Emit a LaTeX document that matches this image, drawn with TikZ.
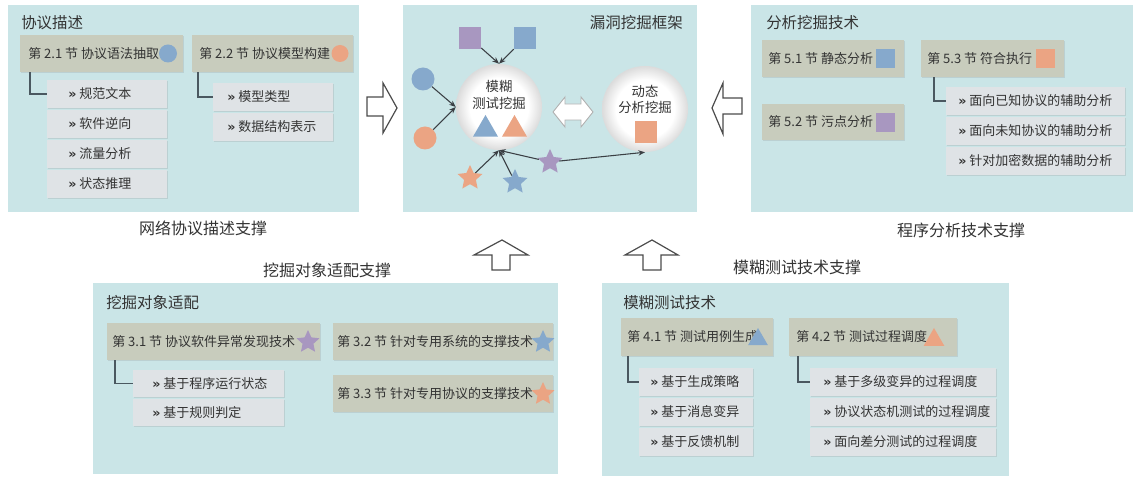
\documentclass[tikz,border=0pt]{standalone}
\usepackage{fontspec}
\setmainfont{Noto Sans CJK SC}
\newfontfamily\dvsb{DejaVu Sans Bold}
\usetikzlibrary{fit,shadows,shapes.geometric,arrows.meta,calc}
\definecolor{panelc}{HTML}{CAE5E7}
\definecolor{hdrc}{HTML}{C8CCBD}
\definecolor{itemc}{HTML}{DFE3E6}
\definecolor{shB}{HTML}{86A9CC}
\definecolor{shO}{HTML}{EBA483}
\definecolor{shP}{HTML}{A897C0}
\definecolor{txtc}{HTML}{333333}
\definecolor{treec}{HTML}{4A5860}
\definecolor{arrc}{HTML}{3A3F44}
\pgfdeclareradialshading{ballshade}{\pgfpoint{0bp}{0bp}}{color(0bp)=(white); color(17bp)=(white); color(25bp)=(black!14); color(50bp)=(black!14)}
\newcommand\mkbox[6]{\node[#1, fit={(#3,#4)(#5,#6)}] (#2) {};}
\newcommand\mkhdr[7]{\node[hdr, fit={(#2,#3)(#4,#5)}] (#1) {};
  \node[txt] (#1t) at (#6,{(#3+#5)/2}) {#7};}
\newcommand\chev{{\dvsb\fontsize{9.5}{12}\selectfont »}}
\newcommand\mkrow[7]{\node[item, fit={(#2,#3)(#4,#5)}] (#1) {};
  \node[txt] (#1t) at (#6,{(#3+#5)/2}) {\chev\ #7};}
\begin{document}
\begin{tikzpicture}[x=0.75pt,y=-0.75pt,
  panel/.style={fill=panelc, inner sep=0pt, draw=none},
  hdr/.style={fill=hdrc, inner sep=0pt, drop shadow={shadow xshift=0.5pt, shadow yshift=-0.8pt, opacity=0.2}},
  item/.style={fill=itemc, inner sep=0pt, drop shadow={shadow xshift=0.5pt, shadow yshift=-0.8pt, opacity=0.2}},
  ttl/.style={font=\fontsize{11.6}{14}\selectfont, text=txtc, inner sep=0pt},
  lbl/.style={font=\fontsize{12}{14}\selectfont, text=txtc, inner sep=0pt},
  txt/.style={font=\fontsize{9.75}{12}\selectfont, text=txtc, inner sep=0pt, anchor=west},
  ctxt/.style={font=\fontsize{10}{12.5}\selectfont, text=txtc, inner sep=0pt, align=center},
  treeline/.style={draw=treec, line width=1.3pt},
  arr/.style={draw=arrc, line width=0.8pt, -{Stealth[length=5pt,width=4pt]}},
  blk/.style={draw=black!70, fill=white, line width=0.9pt, line join=miter},
  sq/.style={rectangle, draw=none, inner sep=0pt, minimum size=#1*0.75pt},
  dot/.style={circle, draw=none, inner sep=0pt, minimum size=#1*0.75pt},
  tri/.style={regular polygon, regular polygon sides=3, draw=none, inner sep=0pt, minimum size=#1*0.75pt},
  st/.style={star, star points=5, star point ratio=2.1, draw=none, inner sep=0pt, minimum size=#1*0.75pt},
]
\useasboundingbox (0,0) rectangle (1133,477);
\fill[white] (0,0) rectangle (1133,477);

% ---------- panels ----------
\mkbox{panel}{p1}{8}{5}{359}{212}
\mkbox{panel}{p2}{403}{5}{697}{212}
\mkbox{panel}{p3}{751}{5}{1133}{212}
\mkbox{panel}{p4}{93}{283}{558}{474}
\mkbox{panel}{p5}{602}{283}{1009}{476}

% ---------- panel 1 ----------
\node[ttl, anchor=west] (p1t) at (21,23) {协议描述};
\mkhdr{h21}{20}{35}{183}{72}{28}{第 2.1 节 协议语法抽取}
\node[dot=18, fill=shB] (i21) at (168,53.5) {};
\mkhdr{h22}{192}{35}{353}{72}{199}{第 2.2 节 协议模型构建}
\node[dot=17, fill=shO] (i22) at (340,53.5) {};
\mkrow{r21a}{47}{80}{167}{108}{68}{规范文本}
\mkrow{r21b}{47}{110}{167}{138}{68}{软件逆向}
\mkrow{r21c}{47}{140}{167}{168}{68}{流量分析}
\mkrow{r21d}{47}{170}{167}{198}{68}{状态推理}
\draw[treeline] ($(h21.south west)+(10,0)$) |- (r21a.west);
\mkrow{r22a}{213}{83}{333}{111}{227}{模型类型}
\mkrow{r22b}{213}{113}{333}{141}{227}{数据结构表示}
\draw[treeline] ($(h22.south west)+(6,0)$) |- (r22a.west);
\node[lbl] (p1l) at (203,228) {网络协议描述支撑};

% ---------- panel 3 ----------
\node[ttl, anchor=west] (p3t) at (766,23) {分析挖掘技术};
\mkhdr{h51}{762}{40}{904}{77}{768}{第 5.1 节 静态分析}
\node[sq=19, fill=shB] (i51) at (885.5,58.5) {};
\mkhdr{h52}{762}{104}{904}{140}{768}{第 5.2 节 污点分析}
\node[sq=19, fill=shP] (i52) at (885.5,122.5) {};
\mkhdr{h53}{921}{40}{1064}{77}{927}{第 5.3 节 符合执行}
\node[sq=19, fill=shO] (i53) at (1045,58.5) {};
\mkrow{r53a}{946}{87}{1125}{115}{958}{面向已知协议的辅助分析}
\mkrow{r53b}{946}{117}{1125}{145}{958}{面向未知协议的辅助分析}
\mkrow{r53c}{946}{147}{1125}{175}{958}{针对加密数据的辅助分析}
\draw[treeline] ($(h53.south west)+(13,0)$) |- (r53a.west);
\node[lbl] (p3l) at (961,230) {程序分析技术支撑};

% ---------- panel 4 ----------
\node[ttl, anchor=west] (p4t) at (106,303) {挖掘对象适配};
\mkhdr{h31}{107}{323}{320}{360}{112}{第 3.1 节 协议软件异常发现技术}
\node[st=24, fill=shP] (i31) at (308,342) {};
\mkhdr{h32}{333}{323}{553}{360}{337}{第 3.2 节 针对专用系统的支撑技术}
\node[st=24, fill=shB] (i32) at (543,342) {};
\mkhdr{h33}{333}{375}{553}{412}{337}{第 3.3 节 针对专用协议的支撑技术}
\node[st=24, fill=shO] (i33) at (543,394) {};
\mkrow{r31a}{133}{370}{284}{397}{152}{基于程序运行状态}
\mkrow{r31b}{133}{399}{284}{426}{152}{基于规则判定}
\draw[treeline] ($(h31.south west)+(8,0)$) |- (r31a.west);
\node[lbl] (p4l) at (327,270) {挖掘对象适配支撑};

% ---------- panel 5 ----------
\node[ttl, anchor=west] (p5t) at (623,303) {模糊测试技术};
\mkhdr{h41}{621}{318}{773}{356}{627}{第 4.1 节 测试用例生成}
\node[tri=23, fill=shB] (i41) at (758,339.5) {};
\mkhdr{h42}{789}{318}{957}{356}{796}{第 4.2 节 测试过程调度}
\node[tri=24, fill=shO] (i42) at (934,340) {};
\mkrow{r41a}{639}{368}{753}{396}{650}{基于生成策略}
\mkrow{r41b}{639}{398}{753}{426}{650}{基于消息变异}
\mkrow{r41c}{639}{428}{753}{456}{650}{基于反馈机制}
\draw[treeline] ($(h41.south west)+(7,0)$) |- (r41a.west);
\mkrow{r42a}{810}{368}{996}{396}{823}{基于多级变异的过程调度}
\mkrow{r42b}{810}{398}{996}{426}{823}{协议状态机测试的过程调度}
\mkrow{r42c}{810}{428}{996}{456}{823}{面向差分测试的过程调度}
\draw[treeline] ($(h42.south west)+(9,0)$) |- (r42a.west);
\node[lbl] (p5l) at (797,268) {模糊测试技术支撑};

% ---------- panel 2 ----------
\node[ttl, anchor=east] (p2t) at (683,23) {漏洞挖掘框架};
\node[dot=86, shading=ballshade] (m1) at (499,107) {};
\node[dot=86, shading=ballshade] (m2) at (645,109) {};
\node[ctxt] (m1t) at (499,95) {模糊\\测试挖掘};
\node[ctxt] (m2t) at (645,99.5) {动态\\分析挖掘};
\node[tri=29, fill=shB] (t1) at (485.5,129.5) {};
\node[tri=29, fill=shO] (t2) at (514.5,129.5) {};
\node[sq=22, fill=shO] (q3) at (646,132) {};
\node[sq=22, fill=shP] (q1) at (470,38) {};
\node[sq=22, fill=shB] (q2) at (525,38) {};
\node[dot=23, fill=shB] (d1) at (423,79) {};
\node[dot=23, fill=shO] (d2) at (425,138) {};
\node[st=26, fill=shO] (s1) at (470,178) {};
\node[st=26, fill=shB] (s2) at (515,182) {};
\node[st=26, fill=shP] (s3) at (550,162) {};
\draw[arr] (q1) -- (m1.north);
\draw[arr] (q2) -- (m1.north);
\draw[arr] (d1) -- (m1.west);
\draw[arr] (d2) -- (m1.west);
\draw[arr] (s1) -- (m1.south);
\draw[arr] (s2) -- (m1.south);
\draw[arr] (s3) -- (m1.south);
\draw[arr] (s3) -- (m2.south);
% double arrow between the two circles
\draw[fill=white, draw=black!30, line width=0.7pt, line join=miter]
  (553,112) -- (565,97) -- (565,104) -- (581,104) -- (581,97) -- (593,112)
  -- (581,127) -- (581,120) -- (565,120) -- (565,127) -- cycle;

% ---------- block arrows between panels ----------
\draw[blk] (367,97) -- (383,97) -- (383,83) -- (397,108) -- (383,133) -- (383,116) -- (367,116) -- cycle;
\draw[blk] (742,98) -- (723,98) -- (723,83) -- (712,108) -- (723,134) -- (723,114) -- (742,114) -- cycle;
\draw[blk] (492,270) -- (492,255) -- (474,255) -- (502,240) -- (528,255) -- (510,255) -- (510,270) -- cycle;
\draw[blk] (643,270) -- (643,255) -- (625,255) -- (652,240) -- (678,255) -- (661,255) -- (661,270) -- cycle;
\end{tikzpicture}
\end{document}
